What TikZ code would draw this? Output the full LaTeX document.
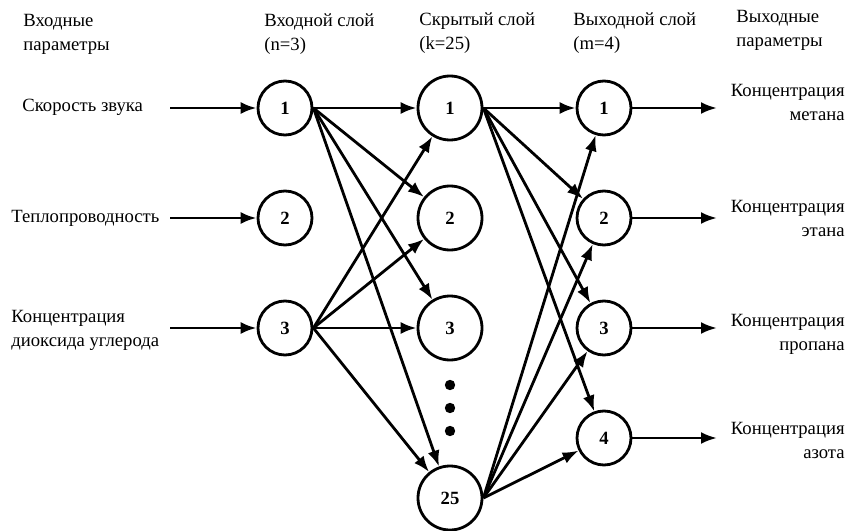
\documentclass[tikz,border=0pt]{standalone}
\usepackage{fontspec}
\setmainfont{Liberation Serif}
\usetikzlibrary{arrows.meta}
\begin{document}
\begin{tikzpicture}[x=0.75pt,y=-0.75pt,line width=2.1pt,
>={Latex[length=12pt,width=9pt]},
font=\fontsize{14}{18}\selectfont]
\tikzstyle{neuron}=[circle,draw,inner sep=0pt,minimum size=40.5pt,font=\fontsize{14}{16}\selectfont\bfseries]
\tikzstyle{bigneuron}=[neuron,minimum size=48pt]
\tikzstyle{lbl}=[align=left,anchor=west,inner sep=0pt]
\tikzstyle{rlbl}=[align=right,anchor=east,inner sep=0pt]
\useasboundingbox (0,0) rectangle (853,531);
% headers
\node[lbl] (hIn) at (22,34) {Входные\\параметры};
\node[lbl] (hL1) at (263,34) {Входной слой\\(n=3)};
\node[lbl] (hL2) at (418,33) {Скрытый слой\\(k=25)};
\node[lbl] (hL3) at (572,33) {Выходной слой\\(m=4)};
\node[lbl] (hOut) at (735,30) {Выходные\\параметры};
% input layer
\node[neuron] (i1) at (285,108) {1};
\node[neuron] (i2) at (285,218) {2};
\node[neuron] (i3) at (285,328) {3};
% hidden layer
\node[bigneuron] (h1) at (450,108) {1};
\node[bigneuron] (h2) at (450,218) {2};
\node[bigneuron] (h3) at (450,328) {3};
\node[bigneuron] (h25) at (450,498) {25};
\foreach \y in {385,408,431} \fill (450,\y) circle (3.9pt);
% output layer
\node[neuron] (o1) at (604,108) {1};
\node[neuron] (o2) at (604,218) {2};
\node[neuron] (o3) at (604,328) {3};
\node[neuron] (o4) at (604,438) {4};
% inputs
\node[lbl] (x1) at (21,107) {Скорость звука};
\node[lbl] (x2) at (10,218) {Теплопроводность};
\node[lbl] (x3) at (10,330) {Концентрация\\диоксида углерода};
\foreach \i in {1,2,3} {
  \coordinate (s\i) at (170,{-2+110*\i});
  \draw[->] (s\i) -- (i\i);
}
% outputs
\node[rlbl] (y1) at (846,102) {Концентрация\\метана};
\node[rlbl] (y2) at (846,218) {Концентрация\\этана};
\node[rlbl] (y3) at (846,334) {Концентрация\\пропана};
\node[rlbl] (y4) at (846,440) {Концентрация\\азота};
\foreach \k in {1,...,4} {
  \coordinate (e\k) at (717,{-2+110*\k});
  \draw[->] (o\k) -- (e\k);
}
% connections
\foreach \i in {1,3}
  \foreach \j in {1,2,3,25}
    \draw[->] (i\i.east) -- (h\j);
\foreach \j in {1,25}
  \foreach \k in {1,...,4}
    \draw[->] (h\j.east) -- (o\k);
\end{tikzpicture}
\end{document}
